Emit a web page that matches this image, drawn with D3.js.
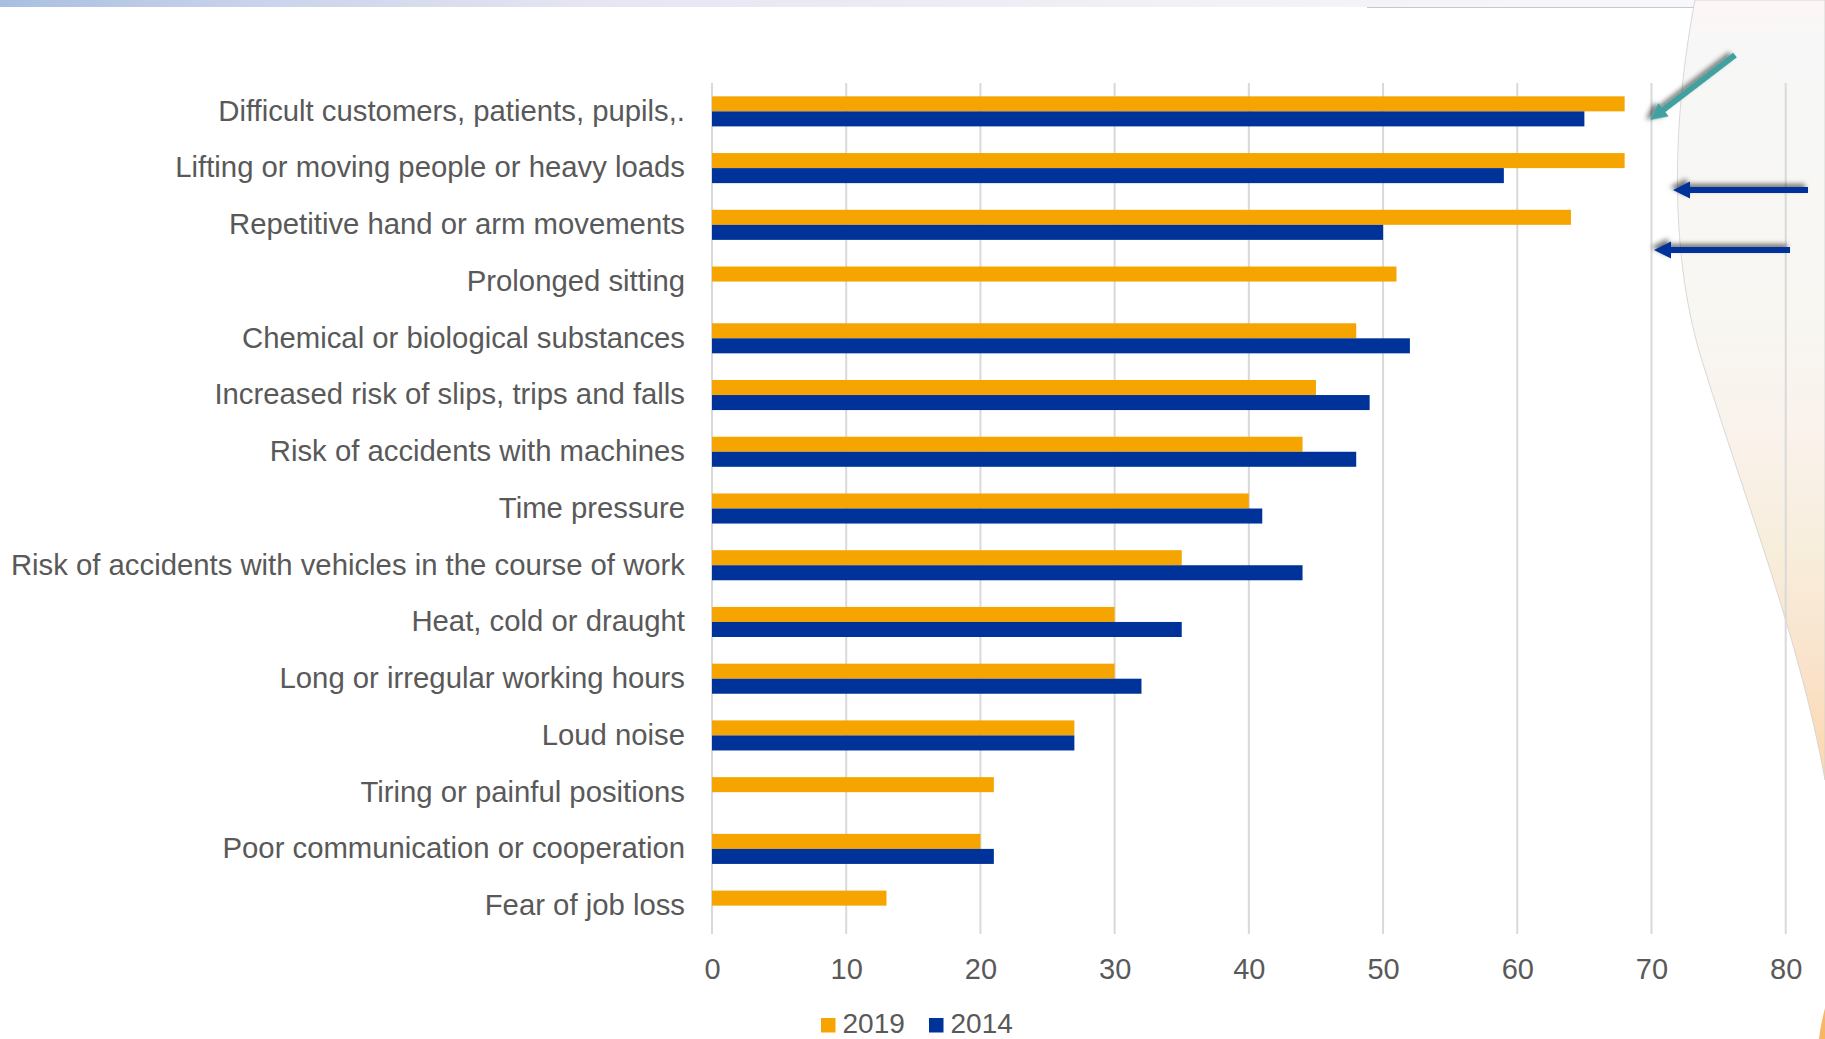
<!DOCTYPE html>
<html>
<head>
<meta charset="utf-8">
<script src="https://cdn.jsdelivr.net/npm/d3@7"></script>
<style>
  html, body { margin: 0; padding: 0; background: #fff; }
  svg { display: block; font-family: "Liberation Sans", Arial, sans-serif; }
</style>
</head>
<body>
<svg id="chart" width="1825" height="1039"></svg>
<script>
// Data
var categories = [
  "Difficult customers, patients, pupils,.",
  "Lifting or moving people or heavy loads",
  "Repetitive hand or arm movements",
  "Prolonged sitting",
  "Chemical or biological substances",
  "Increased risk of slips, trips and falls",
  "Risk of accidents with machines",
  "Time pressure",
  "Risk of accidents with vehicles in the course of work",
  "Heat, cold or draught",
  "Long or irregular working hours",
  "Loud noise",
  "Tiring or painful positions",
  "Poor communication or cooperation",
  "Fear of job loss"
];
var values2019 = [68, 68, 64, 51, 48, 45, 44, 40, 35, 30, 30, 27, 21, 20, 13];
var values2014 = [65, 59, 50, null, 52, 49, 48, 41, 44, 35, 32, 27, null, 21, null];
var seriesNames = ["2019", "2014"];
var seriesColors = ["#f6a500", "#003399"];
var xTicks = [0, 10, 20, 30, 40, 50, 60, 70, 80];

var svg = d3.select("#chart");
var defs = svg.append("defs");

// --- slide decoration (background) ---
var topGrad = defs.append("linearGradient").attr("id", "topGrad");
topGrad.append("stop").attr("offset", "0%").attr("stop-color", "#a9bfe0");
topGrad.append("stop").attr("offset", "15%").attr("stop-color", "#c9d3ea");
topGrad.append("stop").attr("offset", "35%").attr("stop-color", "#e6e5f3");
topGrad.append("stop").attr("offset", "70%").attr("stop-color", "#f1f1f6");
topGrad.append("stop").attr("offset", "100%").attr("stop-color", "#f6f8fd");
svg.append("rect").attr("x", 0).attr("y", 0).attr("width", 1695).attr("height", 7)
  .attr("fill", "url(#topGrad)");
svg.append("line").attr("x1", 1367).attr("x2", 1695).attr("y1", 7.5).attr("y2", 7.5)
  .attr("stroke", "#c8c8c8").attr("stroke-width", 1);

var sideGrad = defs.append("linearGradient").attr("id", "sideGrad")
  .attr("gradientUnits", "userSpaceOnUse")
  .attr("x1", 0).attr("y1", 0).attr("x2", 0).attr("y2", 780);
sideGrad.append("stop").attr("offset", "0%").attr("stop-color", "#fdf6f6");
sideGrad.append("stop").attr("offset", "6%").attr("stop-color", "#f7f7f7");
sideGrad.append("stop").attr("offset", "40%").attr("stop-color", "#f8f7f2");
sideGrad.append("stop").attr("offset", "55%").attr("stop-color", "#faf2ec");
sideGrad.append("stop").attr("offset", "70%").attr("stop-color", "#f7eedc");
sideGrad.append("stop").attr("offset", "85%").attr("stop-color", "#fae3cc");
sideGrad.append("stop").attr("offset", "100%").attr("stop-color", "#fbd7ac");

var side = d3.path();
side.moveTo(1695, 0);
side.bezierCurveTo(1672, 120, 1668, 260, 1705, 370);
side.bezierCurveTo(1745, 500, 1800, 640, 1825, 780);
side.lineTo(1825, 0);
side.closePath();
svg.append("path").attr("d", side.toString()).attr("fill", "url(#sideGrad)")
  .attr("stroke", "#cfcfcf").attr("stroke-width", 0.8);
// orange sliver bottom-right
svg.append("path").attr("d", "M1825,1008 C1822,1020 1820,1030 1819,1039 L1825,1039 Z")
  .attr("fill", "#f7b565");

// --- chart ---
var x = d3.scaleLinear().domain([0, 80]).range([712, 1785.7]);
var y = d3.scaleBand().domain(categories).range([83, 934])
  .paddingInner(0.47).paddingOuter(0.235);
var ySub = d3.scaleBand().domain(seriesNames).range([0, y.bandwidth()]);

// gridlines
svg.append("g").selectAll("line").data(xTicks).join("line")
  .attr("x1", function(d){ return x(d); }).attr("x2", function(d){ return x(d); })
  .attr("y1", 83).attr("y2", 934)
  .attr("stroke", "#d9d9d9").attr("stroke-width", 2);

// bars
var rows = categories.map(function(c, i){
  return {cat: c, vals: [values2019[i], values2014[i]]};
});
var rowG = svg.append("g").selectAll("g").data(rows).join("g")
  .attr("transform", function(d){ return "translate(0," + y(d.cat) + ")"; });
rowG.selectAll("rect")
  .data(function(d){ return d.vals.map(function(v, j){ return {s: seriesNames[j], v: v, c: seriesColors[j]}; })
    .filter(function(e){ return e.v != null; }); })
  .join("rect")
  .attr("x", x(0))
  .attr("y", function(d){ return ySub(d.s); })
  .attr("width", function(d){ return x(d.v) - x(0); })
  .attr("height", ySub.bandwidth())
  .attr("fill", function(d){ return d.c; });

// category labels
var yAxis = d3.axisLeft(y).tickSize(0).tickPadding(27);
var yg = svg.append("g").attr("transform", "translate(" + x(0) + ",0)").call(yAxis);
yg.select(".domain").remove();
yg.selectAll("text").attr("font-size", 29.3).attr("fill", "#595959")
  .attr("font-family", "Liberation Sans, Arial, sans-serif");

// value axis labels
var xAxis = d3.axisBottom(x).tickValues(xTicks).tickSize(0).tickPadding(0);
var xg = svg.append("g").attr("transform", "translate(0,958)").call(xAxis);
xg.select(".domain").remove();
xg.selectAll("text").attr("font-size", 29).attr("fill", "#595959")
  .attr("font-family", "Liberation Sans, Arial, sans-serif");

// legend
var legendX = [821, 929];
var lg = svg.append("g").selectAll("g").data(seriesNames).join("g")
  .attr("transform", function(d, i){ return "translate(" + legendX[i] + ",1018)"; });
lg.append("rect").attr("width", 14.5).attr("height", 14.5)
  .attr("fill", function(d, i){ return seriesColors[i]; });
lg.append("text").attr("x", 21.5).attr("y", 15).text(function(d){ return d; })
  .attr("font-size", 28).attr("fill", "#595959");

// --- annotation arrows ---
var shadow = defs.append("filter").attr("id", "shadow")
  .attr("x", "-20%").attr("y", "-50%").attr("width", "140%").attr("height", "200%");
shadow.append("feDropShadow").attr("dx", 3).attr("dy", 3).attr("stdDeviation", 2.5)
  .attr("flood-color", "#000").attr("flood-opacity", 0.55);

var arrows = [
  {x1: 1735, y1: 55, x2: 1650, y2: 120, color: "#42a0a0"},
  {x1: 1808, y1: 190, x2: 1673, y2: 190, color: "#003399"},
  {x1: 1790, y1: 250, x2: 1654, y2: 250, color: "#003399"}
];
arrows.forEach(function(a){
  var ang = Math.atan2(a.y2 - a.y1, a.x2 - a.x1);
  var len = Math.hypot(a.x2 - a.x1, a.y2 - a.y1);
  var g = svg.append("g").attr("filter", "url(#shadow)")
    .attr("transform", "translate(" + a.x1 + "," + a.y1 + ") rotate(" + (ang * 180 / Math.PI) + ")");
  g.append("rect").attr("x", 0).attr("y", -3).attr("width", len - 14).attr("height", 6)
    .attr("fill", a.color);
  g.append("path").attr("d", "M" + len + ",0 L" + (len - 17) + ",-8.5 L" + (len - 17) + ",8.5 Z")
    .attr("fill", a.color);
});
</script>
</body>
</html>
